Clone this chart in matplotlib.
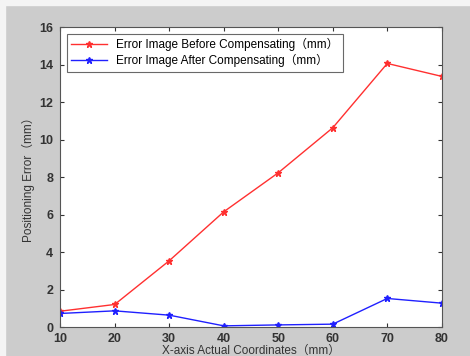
import matplotlib
matplotlib.use("Agg")
from matplotlib import pyplot as plt
from matplotlib.patches import Rectangle

plt.rcParams["font.family"] = ["Liberation Sans", "Noto Sans CJK SC", "DejaVu Sans"]

x_coords = [10, 20, 30, 40, 50, 60, 70, 80]
err_before = [0.85, 1.21, 3.54, 6.15, 8.23, 10.63, 14.06, 13.37]
err_after = [0.73, 0.87, 0.64, 0.07, 0.12, 0.16, 1.53, 1.28]

fig = plt.figure(figsize=(4.7, 3.56), dpi=100, facecolor="#cccccc")
# thin light border at top and left, as in the scanned figure
fig.patches.append(Rectangle((0, 0.986), 1, 0.014, transform=fig.transFigure,
                             color="#f4f4f4", zorder=-1))
fig.patches.append(Rectangle((0, 0), 0.011, 1, transform=fig.transFigure,
                             color="#f4f4f4", zorder=-1))

ax = fig.add_axes([0.128, 0.081, 0.812, 0.843])

ax.plot(x_coords, err_before, color="#ff3030", lw=1.0, marker="*", ms=5,
        label="Error Image Before Compensating（mm）")
ax.plot(x_coords, err_after, color="#2020ff", lw=1.0, marker="*", ms=5,
        label="Error Image After Compensating（mm）")

ax.set_xlim(10, 80)
ax.set_ylim(0, 16)
ax.set_xticks(x_coords)
ax.set_yticks(range(0, 17, 2))
ax.tick_params(direction="in", top=True, right=True, labelsize=9,
               colors="#333333", length=3)
ax.tick_params(axis="x", pad=4)
ax.tick_params(axis="y", pad=5)
for lbl in ax.get_xticklabels() + ax.get_yticklabels():
    lbl.set_fontweight("bold")
for s in ax.spines.values():
    s.set_color("#555555")

ax.set_xlabel("X-axis Actual Coordinates（mm）", fontsize=8.5, color="#333333", labelpad=0)
ax.set_ylabel("Positioning Error（mm）", fontsize=8.5, color="#333333", labelpad=3)

leg = ax.legend(loc="upper left", fontsize=8.5, frameon=True, fancybox=False,
                edgecolor="#444444", borderpad=0.35, labelspacing=0.25,
                handlelength=3.0, borderaxespad=0.6)
leg.get_frame().set_linewidth(0.8)

fig.savefig("out.png", dpi=100, facecolor=fig.get_facecolor())
